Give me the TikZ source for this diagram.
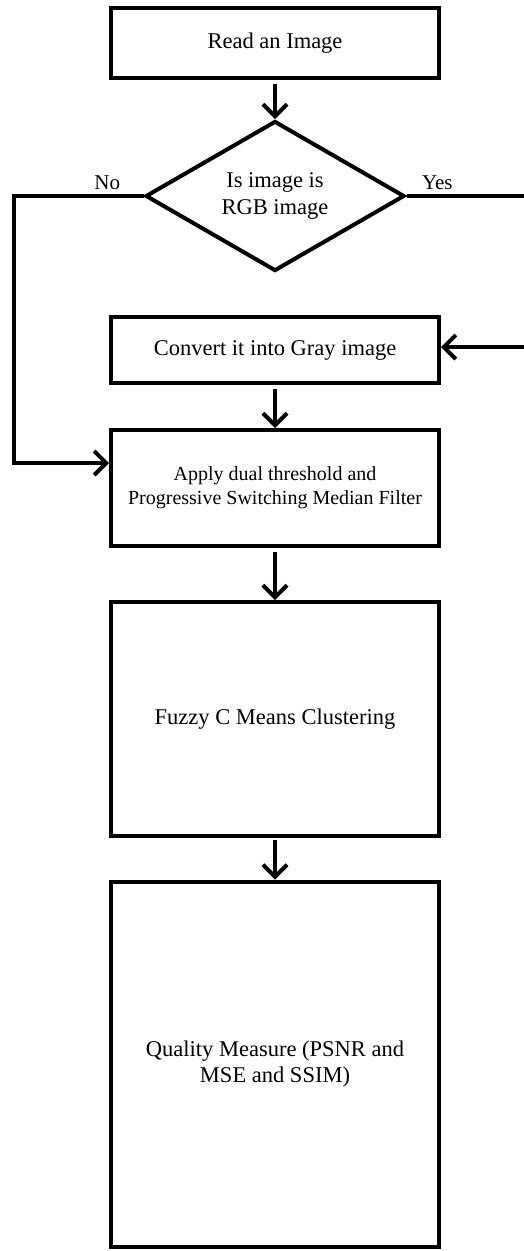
\documentclass[tikz,border=0pt]{standalone}
\usepackage{fontspec}
\setmainfont{Liberation Serif}
\usetikzlibrary{shapes,arrows.meta,positioning}
\tikzstyle{line} = [draw, line width=4pt, -{Straight Barb[length=12pt,width=24pt]}]
\tikzstyle{conn} = [draw, line width=4pt]
\tikzstyle{block} = [draw, line width=4pt, rectangle, text centered, align=center, minimum width=328pt, font=\fontsize{22.5}{26}\selectfont]
\tikzstyle{decision} = [draw, line width=4pt, diamond, aspect=1.73, inner sep=0pt, minimum width=259pt, minimum height=150pt, align=center, font=\fontsize{22.5}{27}\selectfont]
\tikzstyle{answer} = [font=\fontsize{21}{24}\selectfont, inner sep=4pt]

\begin{document}
\begin{tikzpicture}[x=1pt, y=1pt]
        \useasboundingbox (0,0) rectangle (523,-1251);
        \node[block, minimum height=70pt] at (275,-43) (read) {Read an Image};
        \node[decision, below of=read, node distance=153pt] (rgb) {Is image is\\RGB image};
        \node[block, minimum height=66pt, below of=rgb, node distance=154pt] (gray) {Convert it into Gray image};
        \node[block, minimum height=116pt, below of=gray, node distance=138pt, font=\fontsize{20}{24}\selectfont] (apply) {Apply dual threshold and\\Progressive Switching Median Filter};
        \node[block, minimum height=234pt, below of=apply, node distance=231pt] (fcm) {Fuzzy C Means Clustering};
        \node[block, minimum height=365pt, below of=fcm, node distance=345pt] (qm) {Quality Measure (PSNR and\\MSE and SSIM)};
        \coordinate (noturn) at (14,-196);
        \coordinate (yesturn) at (535,-196);
        \path[line, shorten <=4pt] (read) -- (rgb);
        \path[line] (rgb.west) -- node[answer, above, pos=0.28] {No} (noturn) |- ([yshift=25pt]apply.west);
        \path[line] (rgb.east) -- node[answer, above, pos=0.24] {Yes} (yesturn) |- ([yshift=3pt]gray.east);
        \path[line, shorten <=4pt] (gray) -- (apply);
        \path[line, shorten <=4pt] (apply) -- (fcm);
        \path[line, shorten <=2pt] (fcm) -- (qm);
    \end{tikzpicture}
\end{document}
